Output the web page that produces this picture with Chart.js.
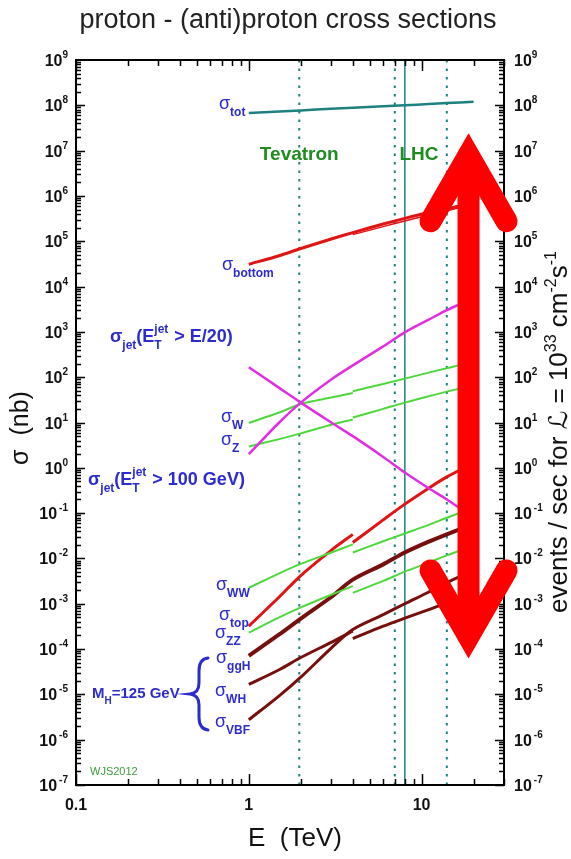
<!DOCTYPE html>
<html>
<head>
<meta charset="utf-8">
<script src="https://cdn.jsdelivr.net/npm/chart.js@4.4.1/dist/chart.umd.min.js"></script>
<style>
  html, body { margin: 0; padding: 0; background: #fff; }
  #c { display: block; }
</style>
</head>
<body>
<canvas id="c" width="571" height="859" style="width:571px;height:859px"></canvas>
<script>
// Collision energies (TeV): p-pbar below 4 TeV, p-p above
const E_PPBAR = [1, 1.5, 2, 3, 4];
const E_PP = [4, 6, 8, 11, 14, 20];
const E_ALL = [1, 1.5, 2, 3, 4, 6, 8, 11, 14, 20];

// Cross sections in nb
const SIG_TOT      = [6.8e7, 7.3e7, 7.7e7, 8.4e7, 8.8e7, 9.5e7, 1.0e8, 1.07e8, 1.12e8, 1.2e8];
const SIG_BOTTOM   = [3.1e4, 4.8e4, 6.9e4, 1.12e5, 1.55e5, 2.4e5, 3.2e5, 4.3e5, 5.2e5, 7.2e5];
const SIG_BOTTOM_PP = [1.4e5, 2.1e5, 2.8e5, 3.8e5, 4.7e5, 6.5e5];
const SIG_JET_E20  = [166, 58, 27.5, 10, 5.0, 1.74, 0.79, 0.355, 0.2, 0.08];
const SIG_JET_100  = [2.0, 10, 27.5, 89, 182, 479, 977, 1860, 3020, 5500];
const SIG_W_PPBAR  = [9.8, 16.6, 25.7, 35.5, 44.7];
const SIG_W_PP     = [49, 71, 93, 126, 158, 219];
const SIG_Z_PPBAR  = [2.95, 4.3, 5.75, 8.9, 11.7];
const SIG_Z_PP     = [12.9, 20, 27.5, 38, 48, 66];
const SIG_WW_PPBAR = [2.24e-3, 4.7e-3, 7.6e-3, 1.35e-2, 2.04e-2];
const SIG_WW_PP    = [1.35e-2, 2.4e-2, 3.55e-2, 5.5e-2, 7.9e-2, 0.132];
const SIG_TOP_PPBAR = [3.2e-4, 1.41e-3, 4.2e-3, 1.51e-2, 3.4e-2];
const SIG_TOP_PP   = [2.24e-2, 7.1e-2, 0.158, 0.355, 0.63, 1.26];
const SIG_ZZ_PPBAR = [2.3e-4, 5.0e-4, 8.3e-4, 1.58e-3, 2.45e-3];
const SIG_ZZ_PP    = [1.74e-3, 3.2e-3, 5.1e-3, 8.1e-3, 1.17e-2, 1.9e-2];
const SIG_GGH      = [7.1e-5, 2.1e-4, 4.7e-4, 1.41e-3, 3.4e-3, 7.4e-3, 1.35e-2, 2.34e-2, 3.4e-2, 5.75e-2];
const SIG_WH_PPBAR = [1.66e-5, 3.5e-5, 6.5e-5, 1.41e-4, 2.5e-4];
const SIG_WH_PP    = [1.7e-4, 3.2e-4, 4.8e-4, 7.4e-4, 1.05e-3, 1.7e-3];
const SIG_VBF      = [2.75e-6, 9.3e-6, 2.4e-5, 1.05e-4, 2.7e-4, 5.75e-4, 1.0e-3, 1.82e-3, 2.95e-3, 5.5e-3];

// Collider energies marked by vertical lines
const TEVATRON_E = [1.96];
const LHC_DOTTED_E = [7, 14];
const LHC_SOLID_E = [8];

// Axis ranges and tick labels
const X_MIN = 0.1, X_MAX = 30;
const Y_MIN = 1e-7, Y_MAX = 1e9;
const X_TICK_VALUES = [0.1, 1, 10];
const X_TICK_LABELS = ['0.1', '1', '10'];
const Y_TICK_EXPONENTS = [-7, -6, -5, -4, -3, -2, -1, 0, 1, 2, 3, 4, 5, 6, 7, 8, 9];

// Double arrow spanning the LHC event-rate range
const ARROW_E = 18.7;
const ARROW_TOP = 7.9e6;
const ARROW_BOTTOM = 1.9e-4;

const FONT = '"Liberation Sans", Arial, "DejaVu Sans", sans-serif';
const BLUE = '#2b2bd0';
const TEAL = '#1f8080';
const RED = '#e01414';
const MAGENTA = '#e22ee2';
const GREEN = '#4ed83c';
const DARKRED = '#780f0f';

const pts = (xs, ys) => xs.map((x, i) => ({ x, y: ys[i] }));

function curve(data, color, width) {
  return { data, borderColor: color, borderWidth: width, pointRadius: 0, tension: 0.3, fill: false, order: 0 };
}
function vline(e, dashed, width) {
  return {
    data: [{ x: e, y: Y_MIN }, { x: e, y: Y_MAX }],
    borderColor: TEAL, borderWidth: width, borderDash: dashed ? [2.5, 6] : [],
    pointRadius: 0, tension: 0, fill: false, order: 1
  };
}

const datasets = [
  curve(pts(E_ALL, SIG_TOT), TEAL, 2.5),
  curve(pts(E_ALL, SIG_BOTTOM), RED, 3),
  curve(pts(E_PP, SIG_BOTTOM_PP), RED, 1.5),
  curve(pts(E_ALL, SIG_JET_E20), MAGENTA, 2.5),
  curve(pts(E_ALL, SIG_JET_100), MAGENTA, 2.5),
  curve(pts(E_PPBAR, SIG_W_PPBAR), GREEN, 2),
  curve(pts(E_PP, SIG_W_PP), GREEN, 2),
  curve(pts(E_PPBAR, SIG_Z_PPBAR), GREEN, 2),
  curve(pts(E_PP, SIG_Z_PP), GREEN, 2),
  curve(pts(E_PPBAR, SIG_WW_PPBAR), GREEN, 2),
  curve(pts(E_PP, SIG_WW_PP), GREEN, 2),
  curve(pts(E_PPBAR, SIG_TOP_PPBAR), RED, 3),
  curve(pts(E_PP, SIG_TOP_PP), RED, 3),
  curve(pts(E_PPBAR, SIG_ZZ_PPBAR), GREEN, 2),
  curve(pts(E_PP, SIG_ZZ_PP), GREEN, 2),
  curve(pts(E_ALL, SIG_GGH), DARKRED, 4),
  curve(pts(E_PPBAR, SIG_WH_PPBAR), DARKRED, 3),
  curve(pts(E_PP, SIG_WH_PP), DARKRED, 3),
  curve(pts(E_ALL, SIG_VBF), DARKRED, 3),
  ...TEVATRON_E.map(e => vline(e, true, 2)),
  ...LHC_DOTTED_E.map(e => vline(e, true, 2)),
  ...LHC_SOLID_E.map(e => vline(e, false, 1.5)),
];

// Draws a run of text pieces (main text, sub/superscripts) from x; returns its width
function rich(ctx, x, y, parts, color, measureOnly) {
  let cx = x;
  ctx.textAlign = 'left';
  ctx.textBaseline = 'alphabetic';
  ctx.fillStyle = color;
  for (const p of parts) {
    ctx.font = (p.b ? 'bold ' : '') + p.s + 'px ' + FONT;
    if (!measureOnly) ctx.fillText(p.t, cx, y + (p.dy || 0));
    if (!p.keep) cx += ctx.measureText(p.t).width + (p.gap || 0);
  }
  return cx - x;
}

function sigma(sub, size, bold) {
  const s = size || 18;
  return [{ t: 'σ', s, b: bold }, { t: sub, s: Math.round(s * 0.68), b: true, dy: 7 }];
}

function jetLabel(tail) {
  return [
    { t: 'σ', s: 18, b: true }, { t: 'jet', s: 12, b: true, dy: 7 },
    { t: '(E', s: 18, b: true }, { t: 'T', s: 12, b: true, dy: 7, keep: true },
    { t: 'jet', s: 12, b: true, dy: -9, gap: 1 },
    { t: tail, s: 18, b: true }
  ];
}

const framePlugin = {
  id: 'frame',
  beforeDraw(chart) {
    const ctx = chart.ctx;
    ctx.save();
    ctx.fillStyle = '#fff';
    ctx.fillRect(0, 0, chart.width, chart.height);
    ctx.restore();
  },
  afterDraw(chart) {
    const ctx = chart.ctx;
    const a = chart.chartArea;
    const xs = chart.scales.x, ys = chart.scales.y;
    ctx.save();

    // text annotations inside the plot
    const labels = [
      [219, 109, sigma('tot')],
      [222, 270, sigma('bottom')],
      [221, 422, sigma('W')],
      [221, 445, sigma('Z')],
      [216, 590, sigma('WW')],
      [219, 620, sigma('top')],
      [215, 638, sigma('ZZ')],
      [216, 663, sigma('ggH')],
      [215, 696, sigma('WH')],
      [215, 727, sigma('VBF')],
    ];
    for (const [lx, ly, parts] of labels) rich(ctx, lx, ly, parts, BLUE);
    rich(ctx, 110, 342, jetLabel(' > E/20)'), BLUE);
    rich(ctx, 88, 485, jetLabel(' > 100 GeV)'), BLUE);
    rich(ctx, 92, 698, [
      { t: 'M', s: 15, b: true }, { t: 'H', s: 10, b: true, dy: 6 },
      { t: '=125 GeV', s: 15, b: true }
    ], BLUE);

    // curly brace grouping the Higgs channels
    ctx.strokeStyle = BLUE;
    ctx.lineWidth = 3;
    ctx.lineCap = 'round';
    ctx.beginPath();
    ctx.moveTo(208, 658);
    ctx.quadraticCurveTo(199, 659, 199, 671);
    ctx.lineTo(199, 683);
    ctx.quadraticCurveTo(199, 693, 190, 694);
    ctx.quadraticCurveTo(199, 695, 199, 705);
    ctx.lineTo(199, 717);
    ctx.quadraticCurveTo(199, 729, 208, 730);
    ctx.stroke();

    ctx.fillStyle = '#1e8c1e';
    ctx.font = 'bold 19px ' + FONT;
    ctx.textAlign = 'center';
    ctx.textBaseline = 'middle';
    ctx.fillText('Tevatron', xs.getPixelForValue(TEVATRON_E[0]), 155);
    ctx.fillText('LHC', 419, 155);

    ctx.fillStyle = '#3c9c3c';
    ctx.font = '11px ' + FONT;
    ctx.textAlign = 'left';
    ctx.fillText('WJS2012', 90, 772);

    // plot frame
    ctx.strokeStyle = '#000';
    ctx.lineWidth = 2;
    ctx.lineCap = 'butt';
    ctx.strokeRect(a.left, a.top, a.right - a.left, a.bottom - a.top);

    // inward tick marks on all four sides
    ctx.lineWidth = 1.5;
    ctx.beginPath();
    for (let e = -7; e <= 8; e++) {
      for (let m = 1; m <= 9; m++) {
        const py = Math.round(ys.getPixelForValue(m * Math.pow(10, e))) + 0.5;
        const len = m === 1 ? 9 : 5;
        ctx.moveTo(a.left, py); ctx.lineTo(a.left + len, py);
        ctx.moveTo(a.right, py); ctx.lineTo(a.right - len, py);
      }
    }
    for (let e = -1; e <= 1; e++) {
      for (let m = 1; m <= 9; m++) {
        const v = m * Math.pow(10, e);
        if (v > X_MAX) break;
        const px = Math.round(xs.getPixelForValue(v)) + 0.5;
        const len = m === 1 ? 11 : 6;
        ctx.moveTo(px, a.bottom); ctx.lineTo(px, a.bottom - len);
        ctx.moveTo(px, a.top); ctx.lineTo(px, a.top + len);
      }
    }
    ctx.stroke();

    // y tick labels, both sides
    for (const e of Y_TICK_EXPONENTS) {
      const py = ys.getPixelForValue(Math.pow(10, e));
      const parts = [{ t: '10', s: 16, b: true }, { t: String(e).replace('-', '\u2009-'), s: 10, b: true, dy: -8 }];
      const w = rich(ctx, 0, 0, parts, '#111', true);
      rich(ctx, a.left - 8 - w, py + 6, parts, '#111');
      rich(ctx, a.right + 10, py + 6, parts, '#111');
    }

    // x tick labels
    ctx.fillStyle = '#111';
    ctx.font = 'bold 16px ' + FONT;
    ctx.textAlign = 'center';
    ctx.textBaseline = 'middle';
    X_TICK_VALUES.forEach((v, i) => ctx.fillText(X_TICK_LABELS[i], xs.getPixelForValue(v), a.bottom + 21));

    // axis titles and chart title
    ctx.font = '26px ' + FONT;
    ctx.fillText('E  (TeV)', 295, a.bottom + 54);
    ctx.font = '27px ' + FONT;
    ctx.fillStyle = '#222';
    ctx.fillText('proton - (anti)proton cross sections', 288, 21);

    ctx.save();
    ctx.translate(21, 428);
    ctx.rotate(-Math.PI / 2);
    ctx.fillStyle = '#111';
    ctx.font = '25px ' + FONT;
    ctx.textAlign = 'center';
    ctx.textBaseline = 'middle';
    ctx.fillText('σ  (nb)', 0, 0);
    ctx.restore();

    const rparts = [
      { t: 'events / sec for ', s: 26 }, { t: 'ℒ', s: 26 }, { t: ' = 10', s: 26 },
      { t: '33', s: 16, dy: -11 }, { t: ' cm', s: 26 }, { t: '-2', s: 16, dy: -11 },
      { t: 's', s: 26 }, { t: '-1', s: 16, dy: -11 }
    ];
    ctx.save();
    ctx.translate(567, 432);
    ctx.rotate(-Math.PI / 2);
    const rw = rich(ctx, 0, 0, rparts, '#111', true);
    rich(ctx, -rw / 2, 0, rparts, '#111');
    ctx.restore();

    // red double arrow
    const ax = xs.getPixelForValue(ARROW_E);
    const top = ys.getPixelForValue(ARROW_TOP);
    const bot = ys.getPixelForValue(ARROW_BOTTOM);
    const hw = 38, hh = 66;
    ctx.strokeStyle = '#ff0000';
    ctx.lineWidth = 22;
    ctx.lineCap = 'butt';
    ctx.beginPath();
    ctx.moveTo(ax, top); ctx.lineTo(ax, bot);
    ctx.stroke();
    ctx.lineCap = 'round';
    ctx.lineJoin = 'miter';
    ctx.miterLimit = 10;
    ctx.beginPath();
    ctx.moveTo(ax - hw, top + hh); ctx.lineTo(ax, top); ctx.lineTo(ax + hw, top + hh);
    ctx.moveTo(ax - hw, bot - hh); ctx.lineTo(ax, bot); ctx.lineTo(ax + hw, bot - hh);
    ctx.stroke();

    ctx.restore();
  }
};

new Chart(document.getElementById('c').getContext('2d'), {
  type: 'line',
  data: { datasets },
  options: {
    responsive: false,
    animation: false,
    devicePixelRatio: 1,
    layout: { padding: { left: 76, right: 67, top: 60, bottom: 74 } },
    plugins: { legend: { display: false }, tooltip: { enabled: false }, title: { display: false } },
    scales: {
      x: { type: 'logarithmic', min: X_MIN, max: X_MAX, display: false },
      y: { type: 'logarithmic', min: Y_MIN, max: Y_MAX, display: false }
    }
  },
  plugins: [framePlugin]
});
</script>
</body>
</html>
